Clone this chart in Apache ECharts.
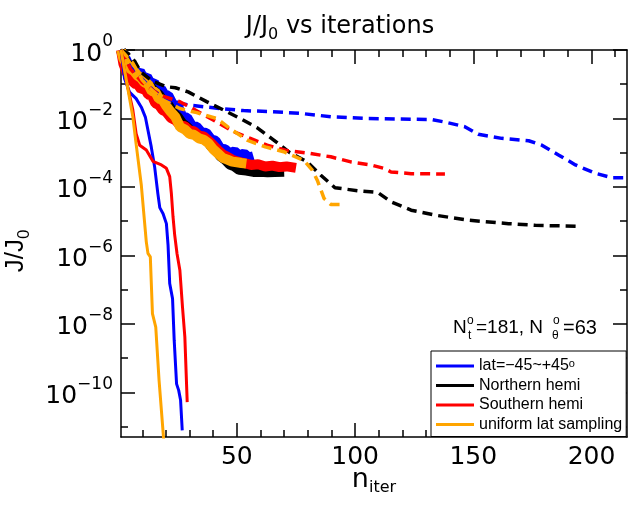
<!DOCTYPE html>
<html>
<head>
<meta charset="utf-8">
<script src="https://cdn.jsdelivr.net/npm/echarts@6/dist/echarts.min.js"></script>
<style>
  html, body { margin: 0; padding: 0; background: #fff; }
  #main { width: 640px; height: 510px; }
</style>
</head>
<body>
<div id="main"></div>
<script>
// axis ranges and ticks
var X_MIN = 1, X_MAX = 215;
var Y_MIN = 5.0e-12, Y_MAX = 1;
var xMajor = [50, 100, 150, 200];
var xMinor = [10, 20, 30, 40, 60, 70, 80, 90, 110, 120, 130, 140, 160, 170, 180, 190, 210];
var yMajor = [1, 1e-2, 1e-4, 1e-6, 1e-8, 1e-10];
var yMinor = [1e-1, 1e-3, 1e-5, 1e-7, 1e-9, 1e-11];

var LAT = 'lat=\u221245~+45\u00b0';
var NORTH = 'Northern hemi';
var SOUTH = 'Southern hemi';
var UNIF = 'uniform lat sampling';

// solid curves (fast convergence)
var latIter = [1, 2.5, 4.6, 7.4, 9.6, 11.3, 13.8, 15.2, 16.6, 17.4, 18.8, 20.2, 20.9, 21.6, 22.8, 23.5, 24.5, 25.4, 26.2, 26.9];
var latJ = [1, 0.145, 5.9e-2, 3.8e-2, 2.14e-2, 1.1e-2, 1.48e-3, 3.98e-4, 6.3e-5, 2.5e-5, 1.66e-5, 8.5e-6, 2.0e-6, 1.51e-7, 5.5e-8, 3.3e-9, 1.78e-10, 1.15e-10, 5.9e-11, 7.8e-12];

var southIter = [1, 3.2, 6, 7.4, 8.9, 11.7, 14.5, 18.1, 20.2, 21.6, 22.3, 23, 23.7, 24.7, 25.9, 27, 28, 29];
var southJ = [1, 0.132, 1.78e-2, 3.6e-3, 1.66e-3, 1.2e-3, 5.6e-4, 4.4e-4, 3.5e-4, 2.0e-4, 6.5e-5, 1.35e-5, 4.0e-6, 1.12e-6, 3.7e-7, 3.16e-8, 4.2e-9, 5.2e-11];

var unifIter = [1, 6, 7.4, 9.6, 11.7, 12.4, 13.4, 14.3, 15.7, 17.1, 19.3];
var unifJ = [1, 1.12e-2, 1.78e-3, 1.12e-4, 2.5e-6, 1.15e-6, 9.1e-7, 2.0e-8, 8.1e-9, 2.24e-10, 2.5e-12];

// dashed curves
var latDashIter = [1, 5, 10, 15, 21.6, 30.1, 42.9, 52.8, 65, 76.9, 90, 105.3, 132.3, 137.9, 146.4, 152.1, 162, 173.4, 179, 186.2, 193.2, 201.7, 208.8, 214];
var latDashJ = [1, 0.316, 0.141, 6.3e-2, 3.1e-2, 2.45e-2, 1.95e-2, 1.7e-2, 1.58e-2, 1.41e-2, 1.12e-2, 1.0e-2, 9.3e-3, 7.9e-3, 5.75e-3, 3.47e-3, 2.63e-3, 2.24e-3, 1.66e-3, 8.5e-4, 4.4e-4, 2.5e-4, 1.86e-4, 1.86e-4];

var northDashIter = [1, 4, 7, 9.3, 14, 20, 24, 29.4, 37.2, 44.3, 51.4, 58.5, 65.6, 72.4, 79.8, 85.4, 91.5, 101, 109.6, 115.2, 123.7, 133.7, 147.9, 164.9, 176.2, 194.7];
var northDashJ = [1, 0.794, 0.447, 0.229, 0.126, 8.5e-2, 7.9e-2, 6.0e-2, 3.1e-2, 1.78e-2, 1.0e-2, 5.4e-3, 2.34e-3, 1.0e-3, 5.4e-4, 2.24e-4, 9.5e-5, 7.8e-5, 6.9e-5, 3.7e-5, 2.1e-5, 1.51e-5, 1.07e-5, 8.5e-6, 7.6e-6, 7.1e-6];

var southDashIter = [1, 5, 10, 17.4, 25.9, 33.7, 41.5, 48.6, 55.7, 62.8, 71.3, 81.2, 89.7, 98.2, 106.7, 112.4, 115.2, 123.7, 138];
var southDashJ = [1, 0.282, 0.112, 4.8e-2, 3.1e-2, 1.58e-2, 7.9e-3, 4.1e-3, 2.63e-3, 1.66e-3, 1.15e-3, 9.5e-4, 7.6e-4, 5.4e-4, 4.4e-4, 3.47e-4, 2.75e-4, 2.45e-4, 2.4e-4];

var unifDashIter = [1, 6, 10, 13, 18.8, 25.9, 33, 41.5, 47.1, 54.3, 62, 69.8, 78.3, 81.9, 84, 86.9, 89.7, 94];
var unifDashJ = [1, 0.417, 0.132, 7.9e-2, 3.47e-2, 1.95e-2, 1.48e-2, 1.0e-2, 5.1e-3, 2.34e-3, 1.48e-3, 1.07e-3, 6.0e-4, 3.1e-4, 1.58e-4, 4.6e-5, 3.1e-5, 3.1e-5];

// thick noisy curves
var latBandIter = [1, 2, 3, 4.5, 6, 7.5, 9, 10.5, 12, 13.5, 15, 16.5, 18, 19.5, 21, 23, 25, 27, 29, 31, 33, 35, 37, 39, 41, 43, 45, 47, 49, 51, 53, 55, 57];
var latBandJ = [1, 0.6, 0.56, 0.32, 0.32, 0.2, 0.24, 0.151, 0.166, 0.105, 0.112, 6.9e-2, 7.2e-2, 4.8e-2, 4.7e-2, 2.5e-2, 2.4e-2, 1.1e-2, 1.05e-2, 6.0e-3, 5.75e-3, 3.98e-3, 3.8e-3, 2.5e-3, 2.24e-3, 1.32e-3, 1.26e-3, 9.5e-4, 1.1e-3, 8.3e-4, 9.5e-4, 7.2e-4, 7.9e-4];

var northBandIter = [1, 3, 5, 7, 9, 11, 13, 15, 17, 19, 21, 23, 25, 27, 29, 31, 33, 35, 37, 39, 41, 43, 45, 47, 49, 51, 54, 57, 60, 63, 66, 70];
var northBandJ = [1, 0.447, 0.316, 0.2, 0.158, 0.112, 8.9e-2, 6.3e-2, 5.0e-2, 3.16e-2, 2.5e-2, 1.51e-2, 1.12e-2, 7.1e-3, 5.6e-3, 3.98e-3, 3.55e-3, 2.63e-3, 2.5e-3, 1.58e-3, 1.26e-3, 7.9e-4, 6.3e-4, 4.5e-4, 3.98e-4, 3.16e-4, 3.0e-4, 2.75e-4, 2.8e-4, 2.7e-4, 2.75e-4, 2.8e-4];

var southBandIter = [1, 2, 3.5, 5, 6.5, 8, 9.5, 11, 12.5, 14, 15.5, 17, 18.5, 20, 22, 24, 26, 28, 30, 32, 34, 36, 38, 40, 42, 44, 46, 48, 50, 53, 56, 59, 62, 65, 68, 71, 75];
var southBandJ = [1, 0.398, 0.209, 0.178, 0.105, 0.1, 7.1e-2, 7.6e-2, 5.0e-2, 4.7e-2, 2.8e-2, 2.5e-2, 1.78e-2, 1.58e-2, 1.05e-2, 8.9e-3, 6.3e-3, 6.0e-3, 4.5e-3, 4.2e-3, 3.16e-3, 3.0e-3, 2.24e-3, 1.66e-3, 1.2e-3, 8.9e-4, 7.6e-4, 6.3e-4, 5.6e-4, 5.0e-4, 4.4e-4, 4.6e-4, 3.98e-4, 4.2e-4, 3.8e-4, 3.98e-4, 3.6e-4];

var unifBandIter = [1, 2, 3.5, 5, 6.5, 8, 9.5, 11, 12.5, 14, 15.5, 17, 18.5, 20, 22, 24, 26, 28, 30, 32, 34, 36, 38, 40, 42, 44, 46, 48, 50, 52, 54];
var unifBandJ = [1, 0.562, 0.38, 0.282, 0.24, 0.178, 0.151, 0.112, 0.1, 6.3e-2, 6.0e-2, 3.8e-2, 3.55e-2, 2.4e-2, 1.58e-2, 1.12e-2, 5.6e-3, 4.8e-3, 3.55e-3, 3.3e-3, 2.63e-3, 2.4e-3, 1.9e-3, 1.26e-3, 9.5e-4, 7.1e-4, 6.3e-4, 5.5e-4, 5.25e-4, 5.0e-4, 4.8e-4];

var BLUE = '#0000ff', BLACK = '#000000', RED = '#ff0000', ORANGE = '#ffa500';
var FONT = 'DejaVu Sans';
var FONT2 = 'Liberation Sans';

function pts(xs, ys) {
  return xs.map(function (x, i) { return [x, ys[i]]; });
}

function line(name, xs, ys, color, type, width) {
  return {
    name: name,
    type: 'line',
    data: pts(xs, ys),
    symbol: 'none',
    clip: true,
    silent: true,
    lineStyle: { color: color, width: width, type: type },
    itemStyle: { color: color },
    emphasis: { disabled: true }
  };
}

function xAx(pos, ticks, len, labels, showLine) {
  return {
    type: 'value', position: pos, min: X_MIN, max: X_MAX,
    axisLine: { show: showLine, onZero: false, lineStyle: { color: '#000', width: 1.5 } },
    axisTick: { show: true, inside: true, length: len, customValues: ticks, lineStyle: { color: '#000', width: 1.5 } },
    axisLabel: {
      show: labels, customValues: ticks, margin: 8,
      fontFamily: FONT, fontSize: 25, color: '#000'
    },
    splitLine: { show: false }
  };
}

function yAx(pos, ticks, len, labels, showLine) {
  return {
    type: 'log', logBase: 10, position: pos, min: Y_MIN, max: Y_MAX,
    axisLine: { show: showLine, onZero: false, lineStyle: { color: '#000', width: 1.5 } },
    axisTick: { show: true, inside: true, length: len, customValues: ticks, lineStyle: { color: '#000', width: 1.5 } },
    axisLabel: {
      show: labels, customValues: ticks, margin: 8,
      formatter: function (v) {
        var e = Math.round(Math.log(v) / Math.LN10);
        return '{b|10}{s|' + (e < 0 ? '\u2212' + (-e) : e) + '}';
      },
      rich: {
        b: { fontFamily: FONT, fontSize: 25, color: '#000', padding: [8, 0, 0, 0], verticalAlign: 'bottom' },
        s: { fontFamily: FONT, fontSize: 17, color: '#000', verticalAlign: 'top' }
      }
    },
    splitLine: { show: false }
  };
}

var chart = echarts.init(document.getElementById('main'));

chart.setOption({
  animation: false,
  backgroundColor: '#fff',
  grid: { left: 121, right: 13, top: 50, bottom: 73, outerBoundsMode: 'none' },
  xAxis: [
    xAx('bottom', xMajor, 14, true, true),
    xAx('bottom', xMinor, 7, false, false),
    xAx('top', xMajor, 14, false, true),
    xAx('top', xMinor, 7, false, false)
  ],
  yAxis: [
    yAx('left', yMajor, 14, true, true),
    yAx('left', yMinor, 7, false, false),
    yAx('right', yMajor, 14, false, true),
    yAx('right', yMinor, 7, false, false)
  ],
  legend: {
    data: [LAT, NORTH, SOUTH, UNIF],
    orient: 'vertical',
    left: 431, top: 351,
    icon: 'path://M0,0 L38,0 L38,3 L0,3 Z',
    itemWidth: 38, itemHeight: 14, itemGap: 3.5,
    padding: [7, 4, 4, 5],
    borderColor: '#000', borderWidth: 1, borderRadius: 0,
    backgroundColor: '#fff',
    selectedMode: false,
    textStyle: {
      fontFamily: FONT2, fontSize: 16, color: '#000',
      rich: { s: { fontFamily: FONT2, fontSize: 11, color: '#000', verticalAlign: 'top' } }
    },
    formatter: function (name) {
      return name === LAT ? 'lat=\u221245~+45{s|o}' : name;
    }
  },
  graphic: [
    {
      type: 'text', x: 340, y: 29,
      style: {
        text: '{j|J/J}{sub|0}{j| vs iterations}',
        align: 'center', verticalAlign: 'middle',
        rich: {
          j: { fontFamily: FONT, fontSize: 24, color: '#000', verticalAlign: 'top' },
          sub: { fontFamily: FONT, fontSize: 16, color: '#000', verticalAlign: 'bottom', padding: [12, 0, 0, 0] }
        }
      }
    },
    {
      type: 'text', x: 374, y: 481,
      style: {
        text: '{n|n}{sub|iter}',
        align: 'center', verticalAlign: 'middle',
        rich: {
          n: { fontFamily: FONT, fontSize: 27, color: '#000', verticalAlign: 'top' },
          sub: { fontFamily: FONT, fontSize: 16, color: '#000', verticalAlign: 'bottom', padding: [13, 0, 0, 0] }
        }
      }
    },
    {
      type: 'text', x: 18, y: 251, rotation: Math.PI / 2,
      style: {
        text: '{j|J/J}{sub|0}',
        align: 'center', verticalAlign: 'middle',
        rich: {
          j: { fontFamily: FONT2, fontSize: 26, color: '#000', verticalAlign: 'top' },
          sub: { fontFamily: FONT2, fontSize: 17, color: '#000', verticalAlign: 'bottom', padding: [13, 0, 0, 0] }
        }
      }
    },
    { type: 'text', x: 453, y: 328, style: { text: 'N', fontFamily: FONT2, fontSize: 19, fill: '#000', align: 'left', verticalAlign: 'middle' } },
    { type: 'text', x: 467, y: 321, style: { text: 'o', fontFamily: FONT2, fontSize: 12, fill: '#000', align: 'left', verticalAlign: 'middle' } },
    { type: 'text', x: 468, y: 336, style: { text: 't', fontFamily: FONT2, fontSize: 12, fill: '#000', align: 'left', verticalAlign: 'middle' } },
    { type: 'text', x: 476, y: 328, style: { text: '=181, N', fontFamily: FONT2, fontSize: 19, fill: '#000', align: 'left', verticalAlign: 'middle' } },
    { type: 'text', x: 553, y: 321, style: { text: 'o', fontFamily: FONT2, fontSize: 12, fill: '#000', align: 'left', verticalAlign: 'middle' } },
    { type: 'text', x: 552, y: 336, style: { text: '\u03b8', fontFamily: FONT2, fontSize: 12, fill: '#000', align: 'left', verticalAlign: 'middle' } },
    { type: 'text', x: 563, y: 328, style: { text: '=63', fontFamily: FONT2, fontSize: 20, fill: '#000', align: 'left', verticalAlign: 'middle' } }
  ],
  series: [
    line('lat band', latBandIter, latBandJ, BLUE, 'solid', 10),
    line(NORTH, northBandIter, northBandJ, BLACK, 'solid', 10),
    line('south band', southBandIter, southBandJ, RED, 'solid', 10),
    line('unif band', unifBandIter, unifBandJ, ORANGE, 'solid', 10),
    line('lat dash', latDashIter, latDashJ, BLUE, [10, 6], 3.5),
    line('north dash', northDashIter, northDashJ, BLACK, [10, 6], 3.5),
    line('south dash', southDashIter, southDashJ, RED, [10, 6], 3.5),
    line('unif dash', unifDashIter, unifDashJ, ORANGE, [10, 6], 3.5),
    line(LAT, latIter, latJ, BLUE, 'solid', 3),
    line(SOUTH, southIter, southJ, RED, 'solid', 3),
    line(UNIF, unifIter, unifJ, ORANGE, 'solid', 3)
  ]
});
</script>
</body>
</html>
